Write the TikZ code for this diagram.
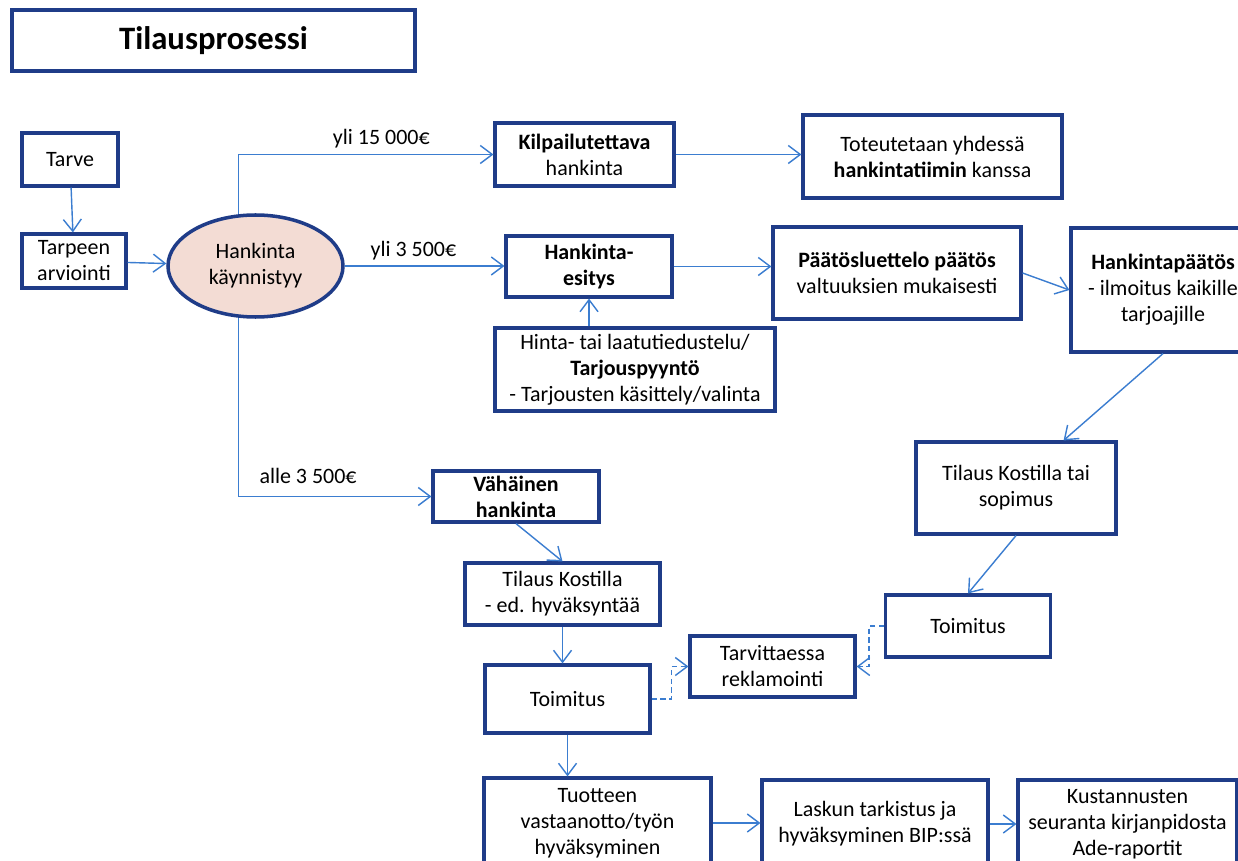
\documentclass[tikz,border=0pt]{standalone}
\usepackage{fontspec}
\setmainfont{Carlito}
\usepackage{tikz}
\usetikzlibrary{arrows.meta,positioning,calc,shapes.geometric}
\definecolor{boxline}{HTML}{1F3C88}
\definecolor{arrowblue}{HTML}{3B7DD0}
\definecolor{startfill}{HTML}{F3DCD4}
\tikzset{
  block/.style={rectangle,draw=boxline,line width=1.8pt,align=center,
    inner sep=2pt,fill=white},
  bsize/.style 2 args={minimum width=#1*0.02cm,minimum height=#2*0.02cm},
  startnode/.style={ellipse,draw=boxline,line width=2pt,fill=startfill,
    align=center,inner sep=0pt},
  flow/.style={-{Straight Barb[length=2.4mm,width=3.6mm]},draw=arrowblue,line width=0.8pt},
  dflow/.style={flow,dashed,dash pattern=on 3pt off 2pt},
  lbl/.style={inner sep=3pt},
}

\begin{document}
\begin{tikzpicture}[x=0.02cm,y=-0.02cm,font=\fontsize{12.5}{14.8}\selectfont]
  \useasboundingbox (0,0) rectangle (1238,861);
  \fill[white] (0,0) rectangle (1238,861);

  % title
  \node[block,bsize={403}{61},font=\fontsize{18.6}{22}\selectfont] (title) at (213.5,40.5) {\textbf{Tilausprosessi}};

  % left part
  \node[block,bsize={96}{53}] (tarve) at (70,159.5) {Tarve};
  \node[block,bsize={104}{54}] (arvio) at (74,261) {Tarpeen\\arviointi};
  \node[startnode,bsize={175}{102}] (start) at (255.5,266) {Hankinta\\käynnistyy};

  % upper branches
  \node[block,bsize={179}{63}] (kilp) at (584.5,154.5) {\textbf{Kilpailutettava}\\hankinta};
  \node[block,bsize={259}{83}] (tot) at (932.5,156.5) {Toteutetaan yhdessä\\\textbf{hankintatiimin} kanssa};
  \node[block,bsize={166}{61}] (esitys) at (589,266.5) {\textbf{Hankinta-}\\\textbf{esitys}};
  \node[block,bsize={280}{83}] (tarj) at (635,369.5) {Hinta- tai laatutiedustelu/\\\textbf{Tarjouspyyntö}\\- Tarjousten käsittely/valinta};
  \node[block,bsize={248}{92}] (paat) at (897,273) {\textbf{Päätösluettelo päätös}\\valtuuksien mukaisesti};
  \node[block,bsize={184}{124}] (hpaat) at (1163,290) {\textbf{Hankintapäätös}\\- ilmoitus kaikille\\tarjoajille};
  \node[block,bsize={200}{92}] (tilaus2) at (1016,488) {Tilaus Kostilla tai\\sopimus};
  \node[block,bsize={165}{62}] (toim2) at (968,626) {Toimitus};

  % lower branch
  \node[block,bsize={166}{51}] (vah) at (516,496.5) {\textbf{Vähäinen}\\\textbf{hankinta}};
  \node[block,bsize={195}{62}] (tilaus1) at (562.5,594) {Tilaus Kostilla\\- ed. hyväksyntää};
  \node[block,bsize={165}{68}] (toim1) at (567.5,699) {Toimitus};
  \node[block,bsize={165}{61}] (rekl) at (772.5,666.5) {Tarvittaessa\\reklamointi};

  % bottom row
  \node[block,bsize={227}{90}] (tuote) at (597.5,823) {Tuotteen\\vastaanotto/työn\\hyväksyminen};
  \node[block,bsize={226}{88}] (lasku) at (875,824) {Laskun tarkistus ja\\hyväksyminen BIP:ssä};
  \node[block,bsize={219}{88}] (kust) at (1127.5,824) {Kustannusten\\seuranta kirjanpidosta\\Ade-raportit};

  \draw[flow] (tarve) -- (arvio);
  \draw[flow] (arvio) -- (start);
  \draw[flow] (start.108) |- (kilp.west) node[lbl,pos=0.78,above] {yli 15 000€};
  \draw[flow] (start.east) -- (start.east -| esitys.west) node[lbl,pos=0.43,above] {yli 3 500€};
  \draw[flow] (start.252) |- (vah.west) node[lbl,pos=0.68,above=4pt] {alle 3 500€};

  \draw[flow] (kilp.east) -- (kilp.east -| tot.west);
  \draw[flow] (esitys.east) -- (esitys.east -| paat.west);
  \draw[flow] (tarj.north -| esitys.south) -- (esitys.south);
  \draw[flow] (paat.east) -- (hpaat.west);
  \draw[flow] (hpaat.south) -- (tilaus2.45);
  \draw[flow] (tilaus2.south) -- (toim2.north);
  \draw[dflow] (toim2.west) -- ++(-15,0) |- (rekl.east);

  \draw[flow] (vah.south) -- (tilaus1.north);
  \draw[flow] (tilaus1.south) -- (tilaus1.south |- toim1.north);
  \draw[dflow] (toim1.east) -- ++(20,0) |- (rekl.west);
  \draw[flow] (toim1.south) -- (toim1.south |- tuote.north);

  \draw[flow] (tuote.east) -- (tuote.east -| lasku.west);
  \draw[flow] (lasku.east) -- (lasku.east -| kust.west);
\end{tikzpicture}
\end{document}
